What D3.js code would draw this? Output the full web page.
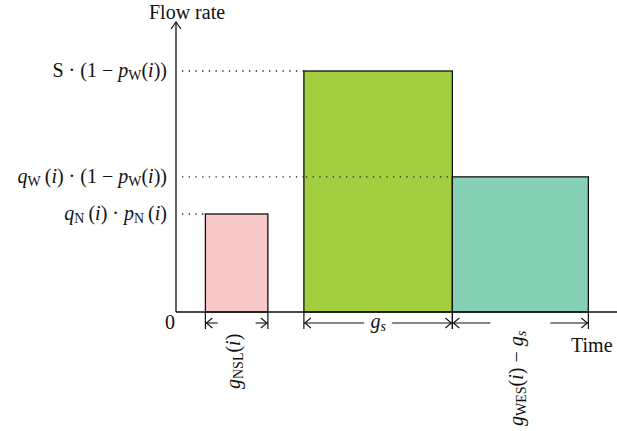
<!DOCTYPE html>
<html>
<head>
<meta charset="utf-8">
<script src="https://cdn.jsdelivr.net/npm/d3@7"></script>
<style>
  body { margin: 0; background: #fff; }
  text { font-family: "Liberation Serif", "DejaVu Serif", serif; fill: #111; }
</style>
</head>
<body>
<div id="chart"></div>
<script>
// phases of the signal cycle (time units, flow units)
const phases = ["NSL", "s", "WES"];
const phaseStart = [2.0, 8.7, 18.8];
const phaseEnd = [6.25, 18.8, 28.05];
const phaseFlow = [3.38, 8.31, 4.66];
const phaseColor = ["#f8c9c9", "#a3ce3f", "#86d0b6"];

// y tick labels, as [text, style] pieces: r roman, i italic, sr sub roman, si sub italic
const flowLabels = [
  [["q", "i"], ["N", "sr"], ["\u2009(", "r"], ["i", "i"], [") · ", "r"], ["p", "i"], ["N", "sr"], ["\u2009(", "r"], ["i", "i"], [")", "r"]],
  [["S · (1 − ", "r"], ["p", "i"], ["W", "sr"], ["(", "r"], ["i", "i"], ["))", "r"]],
  [["q", "i"], ["W", "sr"], ["\u2009(", "r"], ["i", "i"], [") · (1 − ", "r"], ["p", "i"], ["W", "sr"], ["(", "r"], ["i", "i"], ["))", "r"]]
];

const durationLabels = [
  [["g", "i"], ["NSL", "sr"], ["(", "r"], ["i", "i"], [")", "r"]],
  [["g", "i"], ["s", "si"]],
  [["g", "i"], ["WES", "sr"], ["(", "r"], ["i", "i"], [") − ", "r"], ["g", "i"], ["s", "si"]]
];

const width = 617, height = 431;
const x0 = 176, y0 = 312;
const fs = 20;

const x = d3.scaleLinear().domain([0, 30]).range([x0, x0 + 441]);
const y = d3.scaleLinear().domain([0, 10]).range([y0, 22]);

const svg = d3.select("#chart").append("svg")
  .attr("width", width)
  .attr("height", height);

function mathText(sel, pieces, size) {
  pieces.forEach((p, k) => {
    const sub = p[1] === "sr" || p[1] === "si";
    const prevSub = k > 0 && (pieces[k - 1][1] === "sr" || pieces[k - 1][1] === "si");
    let dy = 0;
    if (sub && !prevSub) dy = 3;
    if (!sub && prevSub) dy = -3;
    sel.append("tspan")
      .attr("dy", dy)
      .attr("font-style", p[1] === "i" || p[1] === "si" ? "italic" : "normal")
      .attr("font-size", sub ? size * 0.7 : size)
      .text(p[0]);
  });
}

// dotted guide lines
phases.forEach((d, i) => {
  svg.append("line")
    .attr("x1", x0 + 6)
    .attr("x2", x(phaseStart[i]))
    .attr("y1", y(phaseFlow[i]))
    .attr("y2", y(phaseFlow[i]))
    .attr("stroke", "#222")
    .attr("stroke-width", 1.3)
    .attr("stroke-dasharray", "1.3 5.4");
});

// bars
svg.selectAll("rect.bar")
  .data(phases)
  .join("rect")
  .attr("class", "bar")
  .attr("x", (d, i) => x(phaseStart[i]))
  .attr("y", (d, i) => y(phaseFlow[i]))
  .attr("width", (d, i) => x(phaseEnd[i]) - x(phaseStart[i]))
  .attr("height", (d, i) => y0 - y(phaseFlow[i]))
  .attr("fill", (d, i) => phaseColor[i])
  .attr("stroke", "#111")
  .attr("stroke-width", 1.3);

// guide for q_W line crosses the green bar
svg.append("line")
  .attr("x1", x(phaseStart[1]))
  .attr("x2", x(phaseStart[2]))
  .attr("y1", y(phaseFlow[2]))
  .attr("y2", y(phaseFlow[2]))
  .attr("stroke", "#222")
  .attr("stroke-width", 1.3)
  .attr("stroke-dasharray", "1.3 5.4")
  .attr("stroke-dashoffset", -2);

// axes
svg.append("line")
  .attr("x1", x0).attr("x2", x0)
  .attr("y1", y0).attr("y2", y(10))
  .attr("stroke", "#111").attr("stroke-width", 1.3);
svg.append("path")
  .attr("d", `M${x0 - 5},${y(10) + 7}L${x0},${y(10)}L${x0 + 5},${y(10) + 7}`)
  .attr("fill", "none").attr("stroke", "#111").attr("stroke-width", 1.2);
svg.append("line")
  .attr("x1", x0).attr("x2", x(30))
  .attr("y1", y0).attr("y2", y0)
  .attr("stroke", "#111").attr("stroke-width", 1.3);

svg.append("text")
  .attr("x", 149).attr("y", 19)
  .attr("font-size", fs)
  .text("Flow rate");
svg.append("text")
  .attr("x", x0 - 6).attr("y", y0 + 17)
  .attr("text-anchor", "middle")
  .attr("font-size", fs)
  .text("0");
svg.append("text")
  .attr("x", 571).attr("y", 352)
  .attr("font-size", fs)
  .text("Time");

// y labels
phases.forEach((d, i) => {
  const t = svg.append("text")
    .attr("x", 167)
    .attr("y", y(phaseFlow[i]) + 6)
    .attr("text-anchor", "end");
  mathText(t, flowLabels[i], fs);
});

// dimension lines under each bar
const dimY = 323;
const gapHalf = [19, 14, 30];
const ink = "#111";
phases.forEach((d, i) => {
  const a = x(phaseStart[i]), b = x(phaseEnd[i]);
  const c = (a + b) / 2;
  [a, b].forEach(v => {
    svg.append("line")
      .attr("x1", v).attr("x2", v)
      .attr("y1", y0).attr("y2", dimY + 6)
      .attr("stroke", ink).attr("stroke-width", 1.2);
  });
  svg.append("line")
    .attr("x1", a).attr("x2", c - gapHalf[i])
    .attr("y1", dimY).attr("y2", dimY)
    .attr("stroke", ink).attr("stroke-width", 1.1);
  svg.append("line")
    .attr("x1", c + gapHalf[i]).attr("x2", b)
    .attr("y1", dimY).attr("y2", dimY)
    .attr("stroke", ink).attr("stroke-width", 1.1);
  svg.append("path")
    .attr("d", `M${a + 7},${dimY - 5}L${a + 1},${dimY}L${a + 7},${dimY + 5}`)
    .attr("fill", "none").attr("stroke", ink).attr("stroke-width", 1.1);
  svg.append("path")
    .attr("d", `M${b - 7},${dimY - 5}L${b - 1},${dimY}L${b - 7},${dimY + 5}`)
    .attr("fill", "none").attr("stroke", ink).attr("stroke-width", 1.1);

  if (i === 1) {
    const t = svg.append("text")
      .attr("x", c).attr("y", dimY + 5)
      .attr("text-anchor", "middle");
    mathText(t, durationLabels[i], fs);
  } else {
    const bottom = i === 0 ? 389 : 426;
    const t = svg.append("text")
      .attr("transform", `translate(${c + 3},${bottom}) rotate(-90)`)
      .attr("text-anchor", "start");
    mathText(t, durationLabels[i], fs);
  }
});
</script>
</body>
</html>
